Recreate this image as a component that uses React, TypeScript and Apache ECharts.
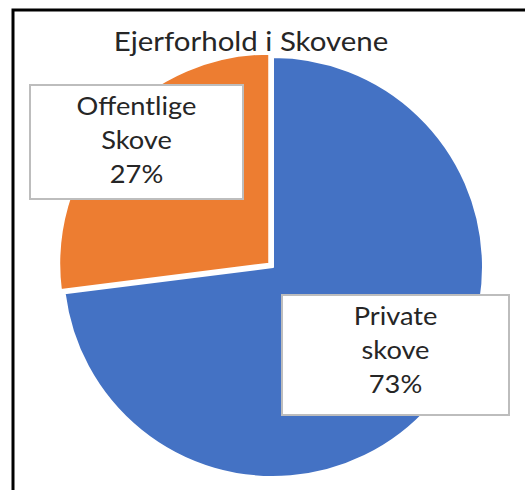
import React, { useEffect, useRef } from "react";
import * as echarts from "echarts";

const titleText = "Ejerforhold i Skovene";
const categories = ["Private\nskove", "Offentlige\nSkove"];
const values = [73, 27];
const colors = ["#4472C4", "#ED7D31"];

export default function App() {
  const ref = useRef<HTMLDivElement>(null);
  useEffect(() => {
    if (!ref.current) return;
    const chart = echarts.init(ref.current, null, { renderer: "svg" });
    const labelBoxes = [
      { x: 282, y: 295, w: 227, h: 120, ty: 349 },
      { x: 30, y: 85, w: 213, h: 114, ty: 139.5 },
    ];
    const total = values.reduce((a, b) => a + b, 0);
    const labelGraphics: any[] = [];
    categories.forEach((name, i) => {
      const b = labelBoxes[i];
      labelGraphics.push({
        type: "rect",
        z: 50,
        shape: { x: b.x, y: b.y, width: b.w, height: b.h },
        style: { fill: "#ffffff", stroke: "#bdbdbd", lineWidth: 2 },
      });
      labelGraphics.push({
        type: "text",
        z: 51,
        x: b.x + b.w / 2,
        y: b.ty,
        scaleX: 1.09,
        style: {
          text: `${name}\n${Math.round((values[i] / total) * 100)}%`,
          fontFamily: "Lato",
          fontSize: 25,
          lineHeight: 34,
          fill: "#262626",
          textAlign: "center",
          textVerticalAlign: "middle",
        },
      });
    });
    chart.setOption({
      animation: false,
      backgroundColor: "#ffffff",
      graphic: [
        {
          type: "rect",
          shape: { x: 13, y: 10, width: 700, height: 700 },
          style: { fill: "none", stroke: "#000000", lineWidth: 3 },
          z: 100,
        },
        {
          type: "text",
          x: 251,
          y: 40,
          scaleX: 1.09,
          z: 50,
          style: {
            text: titleText,
            fontFamily: "Lato",
            fontSize: 27,
            fill: "#262626",
            textAlign: "center",
            textVerticalAlign: "middle",
          },
        },
        ...labelGraphics,
      ],
      series: [
        {
          type: "pie",
          center: [273, 267],
          radius: 210,
          startAngle: 90,
          clockwise: true,
          selectedMode: "single",
          selectedOffset: 5,
          itemStyle: { borderColor: "#ffffff", borderWidth: 2 },
          label: { show: false },
          labelLine: { show: false },
          emphasis: { disabled: true },
          data: categories.map((name, i) => ({
            name,
            value: values[i],
            selected: i === 1,
            itemStyle: { color: colors[i] },
          })),
        },
      ],
    });
    return () => chart.dispose();
  }, []);
  return (
    <div
      ref={ref}
      style={{ position: "fixed", left: 0, top: 0, width: 525, height: 490 }}
    />
  );
}
